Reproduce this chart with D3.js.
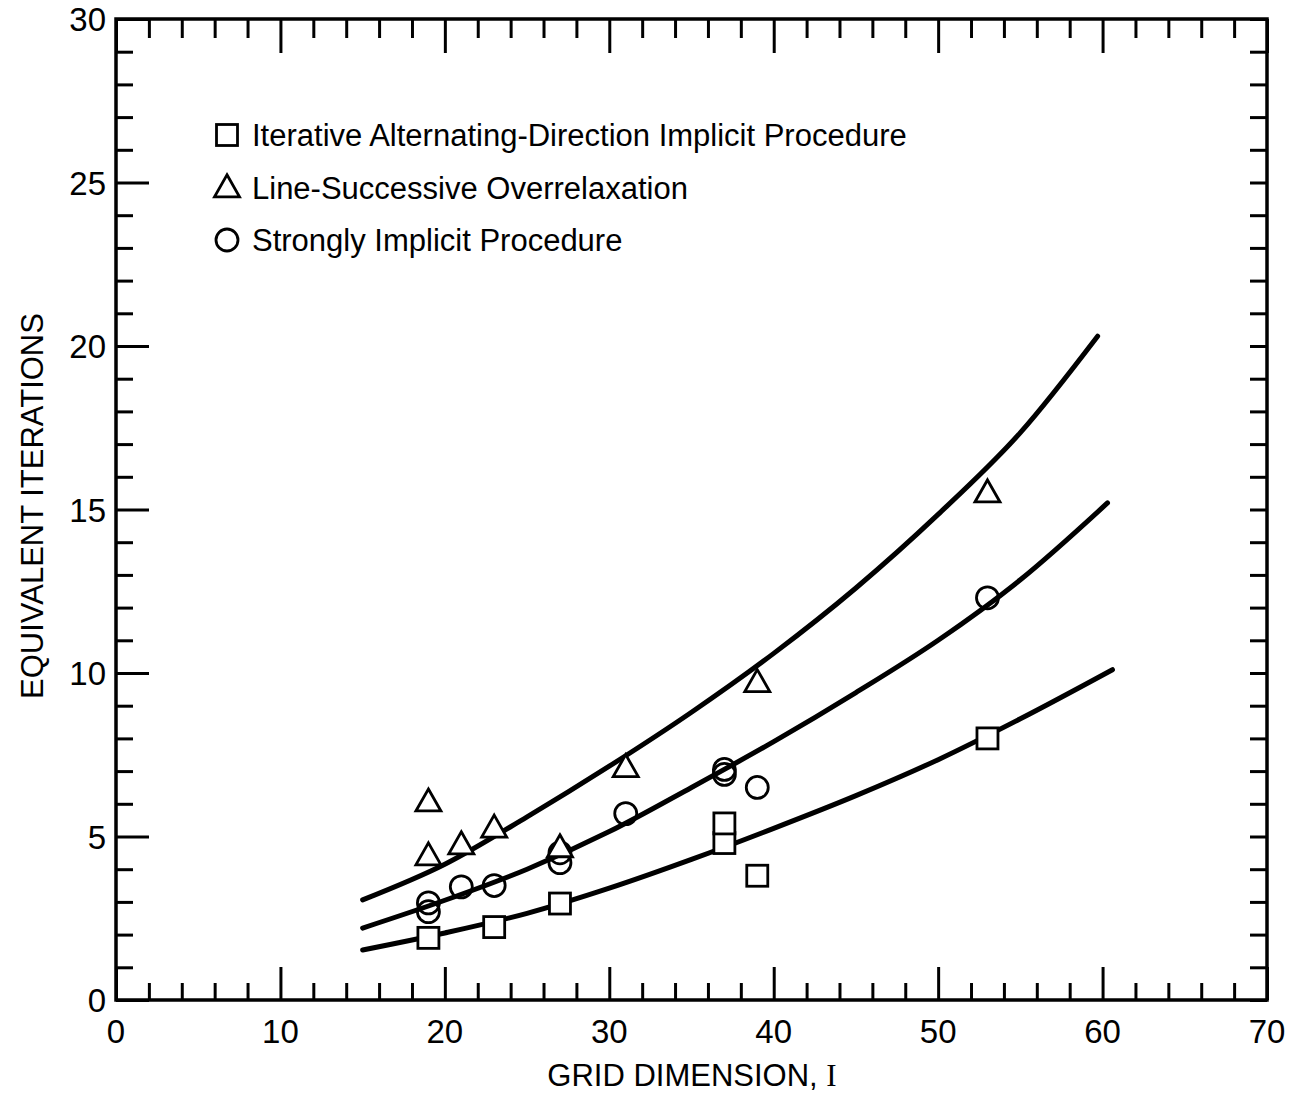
<!DOCTYPE html>
<html>
<head>
<meta charset="utf-8">
<script src="https://cdn.jsdelivr.net/npm/d3@7"></script>
<style>
  body { margin: 0; background: #fff; }
  svg text { font-family: "Liberation Sans", Arial, sans-serif; fill: #000; }
</style>
</head>
<body>
<svg id="chart" width="1300" height="1095"></svg>
<script>
// Measured points (grid dimension I, equivalent iterations)
const adipPoints = [[19, 1.9], [23, 2.23], [27, 2.95], [37, 4.8], [37, 5.4], [39, 3.8], [53, 8.0]];
const lsorPoints = [[19, 6.05], [19, 4.4], [21, 4.74], [23, 5.25], [27, 4.65], [31, 7.1], [39, 9.7], [53, 15.5]];
const sipPoints = [[19, 2.97], [19, 2.7], [21, 3.46], [23, 3.5], [27, 4.5], [27, 4.2], [31, 5.7],
                   [37, 7.05], [37, 6.9], [39, 6.5], [53, 12.3]];

// Fitted curves
const adipCurve = [[15, 1.53], [20, 2.05], [25, 2.65], [30, 3.42], [35, 4.3], [40, 5.25], [45, 6.25], [50, 7.35], [55, 8.6], [60.6, 10.1]];
const lsorCurve = [[15, 3.06], [20, 4.15], [25, 5.6], [30, 7.15], [35, 8.8], [40, 10.6], [45, 12.6], [50, 14.85], [55, 17.35], [59.7, 20.3]];
const sipCurve = [[15, 2.2], [20, 3.05], [25, 4.0], [30, 5.15], [35, 6.5], [40, 7.9], [45, 9.4], [50, 11.0], [55, 12.85], [60.3, 15.2]];

const legendLabels = [
  'Iterative Alternating-Direction Implicit Procedure',
  'Line-Successive Overrelaxation',
  'Strongly Implicit Procedure'
];

const xMajor = [0, 10, 20, 30, 40, 50, 60, 70];
const yMajor = [0, 5, 10, 15, 20, 25, 30];

const svg = d3.select('#chart');
const x = d3.scaleLinear().domain([0, 70]).range([116, 1267]);
const y = d3.scaleLinear().domain([0, 30]).range([1000, 19]);

const xMinor = d3.range(0, 71, 2).filter(v => v % 10 !== 0);
const yMinor = d3.range(0, 31, 1).filter(v => v % 5 !== 0);

// axes: ticks pointing inward on all four sides
function styleAxis(g) {
  g.select('.domain').remove();
  g.selectAll('line').attr('stroke', '#000').attr('stroke-width', 3);
}
const x0 = y.range()[0], yTop = y.range()[1];
const xl = x.range()[0], xr = x.range()[1];

svg.append('g').attr('transform', `translate(0,${x0})`)
  .call(d3.axisBottom(x).tickValues(xMajor).tickSizeInner(-33).tickSizeOuter(0).tickFormat(''))
  .call(styleAxis);
svg.append('g').attr('transform', `translate(0,${x0})`)
  .call(d3.axisBottom(x).tickValues(xMinor).tickSizeInner(-17).tickSizeOuter(0).tickFormat(''))
  .call(styleAxis);
svg.append('g').attr('transform', `translate(0,${yTop})`)
  .call(d3.axisTop(x).tickValues(xMajor).tickSizeInner(-34).tickSizeOuter(0).tickFormat(''))
  .call(styleAxis);
svg.append('g').attr('transform', `translate(0,${yTop})`)
  .call(d3.axisTop(x).tickValues(xMinor).tickSizeInner(-19).tickSizeOuter(0).tickFormat(''))
  .call(styleAxis);
svg.append('g').attr('transform', `translate(${xl},0)`)
  .call(d3.axisLeft(y).tickValues(yMajor).tickSizeInner(-33).tickSizeOuter(0).tickFormat(''))
  .call(styleAxis);
svg.append('g').attr('transform', `translate(${xl},0)`)
  .call(d3.axisLeft(y).tickValues(yMinor).tickSizeInner(-17).tickSizeOuter(0).tickFormat(''))
  .call(styleAxis);
svg.append('g').attr('transform', `translate(${xr},0)`)
  .call(d3.axisRight(y).tickValues(yMajor).tickSizeInner(-17).tickSizeOuter(0).tickFormat(''))
  .call(styleAxis);
svg.append('g').attr('transform', `translate(${xr},0)`)
  .call(d3.axisRight(y).tickValues(yMinor).tickSizeInner(-17).tickSizeOuter(0).tickFormat(''))
  .call(styleAxis);

// frame
svg.append('rect')
  .attr('x', xl).attr('y', yTop)
  .attr('width', xr - xl).attr('height', x0 - yTop)
  .attr('fill', 'none').attr('stroke', '#000').attr('stroke-width', 3.5);

// tick labels
svg.append('g').selectAll('text').data(xMajor).join('text')
  .attr('x', d => x(d)).attr('y', 1043)
  .attr('text-anchor', 'middle').style('font-size', '33px')
  .text(d => d);
svg.append('g').selectAll('text').data(yMajor).join('text')
  .attr('x', 106).attr('y', d => y(d) + 12)
  .attr('text-anchor', 'end').style('font-size', '33px')
  .text(d => d);

// axis titles
svg.append('text')
  .attr('x', 692).attr('y', 1086)
  .attr('text-anchor', 'middle').style('font-size', '31px')
  .text('GRID DIMENSION,  ')
  .append('tspan').style('font-family', '"Liberation Serif", serif').style('font-size', '31px').text('I');
svg.append('text')
  .attr('transform', 'translate(43,506) rotate(-90)')
  .attr('text-anchor', 'middle').style('font-size', '31px')
  .text('EQUIVALENT  ITERATIONS');

// curves
const line = d3.line().x(d => x(d[0])).y(d => y(d[1])).curve(d3.curveMonotoneX);
[adipCurve, lsorCurve, sipCurve].forEach(c => {
  svg.append('path').datum(c)
    .attr('d', line)
    .attr('fill', 'none').attr('stroke', '#000')
    .attr('stroke-width', 5).attr('stroke-linecap', 'round');
});

// markers
const markerStyle = sel => sel.attr('fill', '#fff').attr('stroke', '#000').attr('stroke-width', 2.8);
const sqSize = 21, triW = 25, triH = 22, circR = 11;

function drawSquare(g, cx, cy) {
  g.append('rect').attr('x', cx - sqSize / 2).attr('y', cy - sqSize / 2)
    .attr('width', sqSize).attr('height', sqSize).call(markerStyle);
}
function drawTriangle(g, cx, cy) {
  g.append('path')
    .attr('d', `M${cx},${cy - triH * 0.6}L${cx + triW / 2},${cy + triH * 0.4}L${cx - triW / 2},${cy + triH * 0.4}Z`)
    .attr('stroke-linejoin', 'miter').call(markerStyle);
}
function drawCircle(g, cx, cy) {
  g.append('circle').attr('cx', cx).attr('cy', cy).attr('r', circR).call(markerStyle).attr('fill', 'none');
}

const marks = svg.append('g');
sipPoints.forEach(d => drawCircle(marks, x(d[0]), y(d[1])));
lsorPoints.forEach(d => drawTriangle(marks, x(d[0]), y(d[1])));
adipPoints.forEach(d => drawSquare(marks, x(d[0]), y(d[1])));

// legend
const legend = svg.append('g');
const legendRows = [135, 188, 240];
const drawers = [drawSquare, drawTriangle, drawCircle];
legendLabels.forEach((lab, i) => {
  drawers[i](legend, 227, legendRows[i]);
  legend.append('text')
    .attr('x', 252).attr('y', legendRows[i] + 11)
    .style('font-size', '31px')
    .text(lab);
});
</script>
</body>
</html>
